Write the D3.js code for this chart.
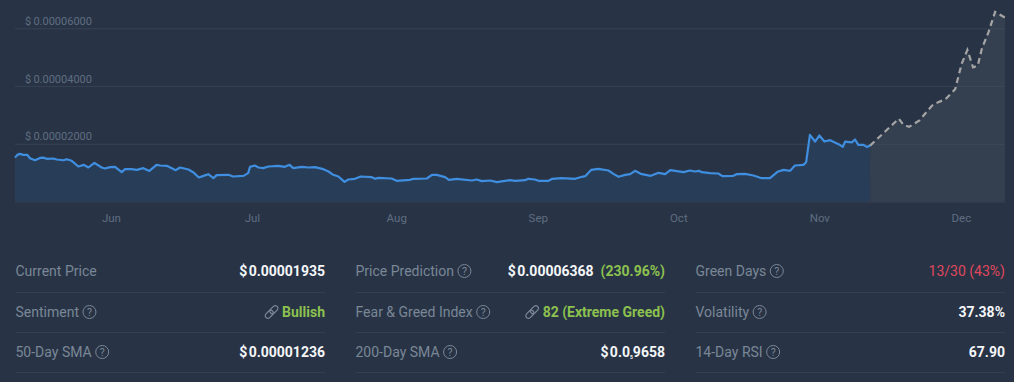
<!DOCTYPE html>
<html>
<head>
<meta charset="utf-8">
<script src="https://cdn.jsdelivr.net/npm/d3@7"></script>
<style>
    html, body { margin: 0; padding: 0; background: #283446; overflow: hidden; }
    svg { display: block; font-family: Roboto, sans-serif; }
    .axis text { fill: #5f6d80; font-size: 11px; font-family: Roboto, sans-serif; }
    .axis.months text { font-size: 11.5px; }
    .axis .domain { display: none; }
    .grid line { stroke: #364354; }
    .stat-label { fill: #7a8796; font-size: 14px; }
    .stat-value { fill: #f4f6f8; font-size: 14px; font-weight: 700; text-anchor: end; }
    .green { fill: #8dc14f; }
    .red { fill: #e0475c; font-weight: 400; }
</style>
</head>
<body>
<div id="chart"></div>
<script>
// prices are in units of 0.00001 USD, days count from the left edge of the chart
const histDays = [0, 0.5, 1.06, 1.77, 2.62, 3.19, 4.26, 5.32, 6.03, 6.74, 8.16, 8.87, 10.3, 11, 12.06, 13.48, 14.68, 15.6, 16.88, 18.44, 19.15, 20.2, 21.28, 22.7, 23.4, 24.8, 25.9, 27.3, 28.6, 30.1, 30.9, 32.3, 34.2, 35.1,
    36.9, 37.9, 39.1, 40.1, 41.1, 42.2, 42.9, 45.4, 46.4, 48.6, 49.6, 50, 51, 51.8, 52.8, 53.9, 56, 57.4, 58.4, 59.2, 61, 62.4, 63.8, 65.6, 66.7, 67.7, 68.8, 70.1, 70.9, 72.3,
    73.55, 75.9, 76.6, 77.3, 80.1, 81.2, 84, 84.8, 87.6, 88.7, 89.7, 91.5, 92.3, 94, 97.2, 98.2, 99.3, 101.1, 102.5, 105.3, 106.4, 108.5,
    109.2, 110.6, 111.35, 113.5, 114.3, 116.3, 119.15, 120.6, 121.3, 122.6, 124.1, 126.25, 127.3, 128.4, 129.8, 130.85, 131.9, 133.1, 135.25, 136.9, 138.3, 139.4, 142.2, 143.6,
    144.65, 145.5, 146.1, 147.85, 149.6, 150.5, 152.8, 153.5, 155.3, 157.1, 158.85, 160.6, 162.2, 163.5, 164.9, 165.9, 167.7, 168.3, 169.1, 170.2, 171.1, 172.2, 173.4, 175.2, 176.1, 176.6, 178, 178.7, 179.4, 180.5, 181.2, 181.9];
const histPrice = [1.52, 1.616, 1.65, 1.616, 1.616, 1.5, 1.43, 1.51, 1.52, 1.478, 1.49, 1.455, 1.43, 1.466, 1.41, 1.212, 1.27, 1.178, 1.34, 1.178, 1.143, 1.19, 1.2, 1.016, 1.12, 1.12, 1.097, 1.155, 1.06, 1.27, 1.247, 1.235, 1.085, 1.178,
    1.108, 1.016, 0.832, 0.889, 0.947, 0.809, 0.912, 0.924, 0.866, 0.889, 0.982, 1.2, 1.247, 1.178, 1.155, 1.212, 1.235, 1.2, 1.27, 1.155, 1.2, 1.178, 1.189, 1.12, 1.039, 0.924, 0.866, 0.682, 0.763, 0.786,
    0.866, 0.843, 0.786, 0.82, 0.797, 0.716, 0.751, 0.786, 0.797, 0.924, 0.924, 0.843, 0.751, 0.786, 0.728, 0.763, 0.705, 0.728, 0.67, 0.739, 0.716, 0.739,
    0.786, 0.763, 0.716, 0.716, 0.786, 0.809, 0.786, 0.855, 0.878, 1.097, 1.131, 1.074, 0.958, 0.855, 0.924, 0.947, 1.062, 0.958, 0.889, 0.993, 0.947, 1.085, 1.016, 1.074,
    1.039, 1.062, 1.016, 0.982, 0.97, 0.878, 0.889, 0.947, 0.958, 0.9, 0.808, 0.808, 1.028, 1.097, 1.062, 1.247, 1.27, 1.362, 2.308, 2.077, 2.286, 2.077, 2.124, 1.987, 1.893, 2.077, 2.05, 2.147, 1.962, 1.962, 1.89, 1.935];

const forecastDays = [181.9, 188, 189, 190.2, 192.4, 195, 195.8, 197.9, 200, 201.4, 202.6, 203.8, 204.8, 205.7, 207.1, 208.5, 210.6];
const forecastPrice = [1.935, 2.87, 2.655, 2.586, 2.81, 3.31, 3.4, 3.54, 3.89, 4.78, 5.25, 4.65, 4.7, 5.31, 5.87, 6.57, 6.368];

const yTicks = [0, 2, 4, 6];
const yLabels = ["$\u20090.00", "$\u20090.00002000", "$\u20090.00004000", "$\u20090.00006000"];
const monthDays = [20.4, 50.4, 81.1, 111.2, 141.1, 171.1, 201.2];
const monthLabels = ["Jun", "Jul", "Aug", "Sep", "Oct", "Nov", "Dec"];

const statLabels = [
    ["Current Price", "Sentiment", "50-Day SMA"],
    ["Price Prediction", "Fear & Greed Index", "200-Day SMA"],
    ["Green Days", "Volatility", "14-Day RSI"]
];
const statValues = [
    ["$\u200A0.00001935", "Bullish", "$\u200A0.00001236"],
    ["$\u200A0.00006368", "82 (Extreme Greed)", "$\u200A0.0|5|9658"],
    ["13/30 (43%)", "37.38%", "67.90"]
];

const width = 1014;
const height = 382;

const svg = d3.select("#chart")
    .append("svg")
        .attr("width", width)
        .attr("height", height);

const x = d3.scaleLinear()
    .domain([0, 210.6])
    .range([15, 1005]);

const y = d3.scaleLinear()
    .domain([0, 6])
    .range([201.5, 28.3]);

const area = d3.area()
    .x(d => x(d[0]))
    .y0(y(0))
    .y1(d => y(d[1]));

const line = d3.line()
    .x(d => x(d[0]))
    .y(d => y(d[1]));

const hist = d3.zip(histDays, histPrice);
const forecast = d3.zip(forecastDays, forecastPrice);

// y axis: long ticks as grid lines, labels sit above them
const yAxis = svg.append("g")
    .attr("class", "axis grid")
    .attr("transform", "translate(15,0)")
    .call(d3.axisRight(y)
        .tickValues(yTicks)
        .tickSize(990)
        .tickFormat((d, i) => yLabels[i]));
yAxis.selectAll("text")
    .attr("x", 10)
    .attr("dy", "-4")
    .attr("text-anchor", "start");

svg.append("path")
    .datum(forecast)
    .attr("fill", "#49525f")
    .attr("fill-opacity", 0.38)
    .attr("d", area);

svg.append("path")
    .datum(hist)
    .attr("fill", "#283d58")
    .attr("d", area);

svg.append("path")
    .datum(hist)
    .attr("fill", "none")
    .attr("stroke", "#3f8ee0")
    .attr("stroke-width", 2.2)
    .attr("stroke-linejoin", "round")
    .attr("d", line);

svg.append("path")
    .datum(forecast)
    .attr("fill", "none")
    .attr("stroke", "#a5a5a5")
    .attr("stroke-width", 2.2)
    .attr("stroke-dasharray", "6,4")
    .attr("d", line);

const xAxis = svg.append("g")
    .attr("class", "axis months")
    .attr("transform", "translate(0,209)")
    .call(d3.axisBottom(x)
        .tickValues(monthDays)
        .tickSize(0)
        .tickFormat((d, i) => monthLabels[i]));
xAxis.selectAll("text").attr("dy", "0.78em").attr("y", 4);

// stats table below the chart
const colLeft = [15.5, 355.5, 695.5];
const colRight = [325, 665, 1005];
const rowMid = [271, 312, 352];
const rowRule = [292.5, 332.5, 372.5];

function helpIcon(g, cx, cy) {
    g.append("circle")
        .attr("cx", cx)
        .attr("cy", cy)
        .attr("r", 6.5)
        .attr("fill", "none")
        .attr("stroke", "#7a8796")
        .attr("stroke-width", 1);
    g.append("text")
        .attr("x", cx)
        .attr("y", cy + 3.7)
        .attr("text-anchor", "middle")
        .attr("fill", "#7a8796")
        .attr("font-size", 10.5)
        .text("?");
}

function linkIcon(g, cx, cy) {
    [[-2.3, 2.3], [2.3, -2.3]].forEach(o => {
        g.append("rect")
            .attr("x", -4.6)
            .attr("y", -2.6)
            .attr("width", 9.2)
            .attr("height", 5.2)
            .attr("rx", 2.6)
            .attr("fill", "none")
            .attr("stroke", "#7a8796")
            .attr("stroke-width", 1.2)
            .attr("transform", `translate(${cx + o[0]},${cy + o[1]}) rotate(-45)`);
    });
}

statLabels.forEach((col, c) => {
    col.forEach((label, r) => {
        const g = svg.append("g");
        const cy = rowMid[r];

        g.append("line")
            .attr("x1", colLeft[c])
            .attr("x2", colRight[c])
            .attr("y1", rowRule[r])
            .attr("y2", rowRule[r])
            .attr("stroke", "#344153")
            .attr("stroke-width", 1);

        const t = g.append("text")
            .attr("class", "stat-label")
            .attr("x", colLeft[c])
            .attr("y", cy + 5)
            .text(label);

        if (label !== "Current Price") {
            helpIcon(g, colLeft[c] + t.node().getComputedTextLength() + 10.5, cy);
        }

        const value = statValues[c][r];
        const v = g.append("text")
            .attr("class", "stat-value")
            .attr("x", colRight[c])
            .attr("y", cy + 5);

        if (value === "Bullish" || value.startsWith("82")) {
            v.classed("green", true).text(value);
            linkIcon(g, colRight[c] - v.node().getComputedTextLength() - 10.5, cy);
        } else if (value.startsWith("13/30")) {
            v.classed("red", true).text(value);
        } else if (value.includes("|")) {
            const parts = value.split("|");
            v.append("tspan").text(parts[0]);
            v.append("tspan").attr("font-size", 5).attr("dy", 2).text(parts[1]);
            v.append("tspan").attr("dy", -2).text(parts[2]);
        } else if (label === "Price Prediction") {
            v.append("tspan").text(value);
            v.append("tspan").attr("class", "green").attr("dx", 7).text("(230.96%)");
        } else {
            v.text(value);
        }
    });
});
</script>
</body>
</html>
